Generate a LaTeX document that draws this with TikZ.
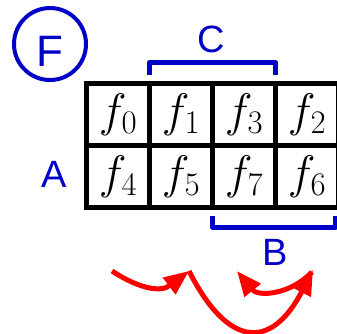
\documentclass[tikz,border=0pt]{standalone}
\usepackage{fix-cm}
\usepackage{fontspec}
\newfontfamily\lab{Liberation Sans}
\usetikzlibrary{arrows.meta}
\definecolor{lblue}{RGB}{0,0,200}
\definecolor{lred}{RGB}{255,0,0}
\tikzset{
  cell/.style={draw=black, line width=5pt, minimum width=63pt, minimum height=62pt,
    inner sep=0pt, outer sep=0pt, font=\fontsize{47}{50}\selectfont},
  biglab/.style={text=lblue, inner sep=0pt, anchor=base, font=\lab\fontsize{38}{40}\selectfont},
  brack/.style={draw=lblue, line width=5pt, line join=round},
  redarrow/.style={draw=lred, line width=5pt, -{Triangle[length=25pt,width=20pt]}},
}
\begin{document}
\begin{tikzpicture}[x=1pt,y=-1pt]
\useasboundingbox (0,0) rectangle (337,333);
% grid
\node[cell] (c0) at (118,114.5) {$f_0$};
\node[cell] (c1) at (181,114.5) {$f_1$};
\node[cell] (c3) at (244,114.5) {$f_3$};
\node[cell] (c2) at (307,114.5) {$f_2$};
\node[cell] (c4) at (118,176.5) {$f_4$};
\node[cell] (c5) at (181,176.5) {$f_5$};
\node[cell] (c7) at (244,176.5) {$f_7$};
\node[cell] (c6) at (307,176.5) {$f_6$};
% F in circle
\node[circle, draw=lblue, line width=4pt, minimum size=72pt, inner sep=0pt] (circ) at (50,44) {};
\node[biglab, font=\lab\fontsize{44}{46}\selectfont] (F) at (50,66) {F};
% labels
\node[biglab] (C) at (211.5,52) {C};
\node[biglab] (A) at (54,187) {A};
\node[biglab] (B) at (275.5,265) {B};
% brackets
\draw[brack] (149.5,75) -- (149.5,62.5) -- (275.5,62.5) -- (275.5,75);
\draw[brack] (212.5,216) -- (212.5,227.5) -- (335,227.5) -- (335,216);
% arrows
\coordinate (p1) at (112,271);
\coordinate (p2) at (189,271);
\coordinate (p3) at (313,270);
\coordinate (p4) at (237,271);
\coordinate (p5) at (312,272);
\draw[redarrow] (p1) .. controls +(26,17) and +(-29,22) .. (p2);
\draw[redarrow] (p5) .. controls +(-22,23) and +(21,26) .. (p4);
\draw[redarrow] (p2) .. controls +(40,79) and +(-41,79) .. (p3);
\end{tikzpicture}
\end{document}
